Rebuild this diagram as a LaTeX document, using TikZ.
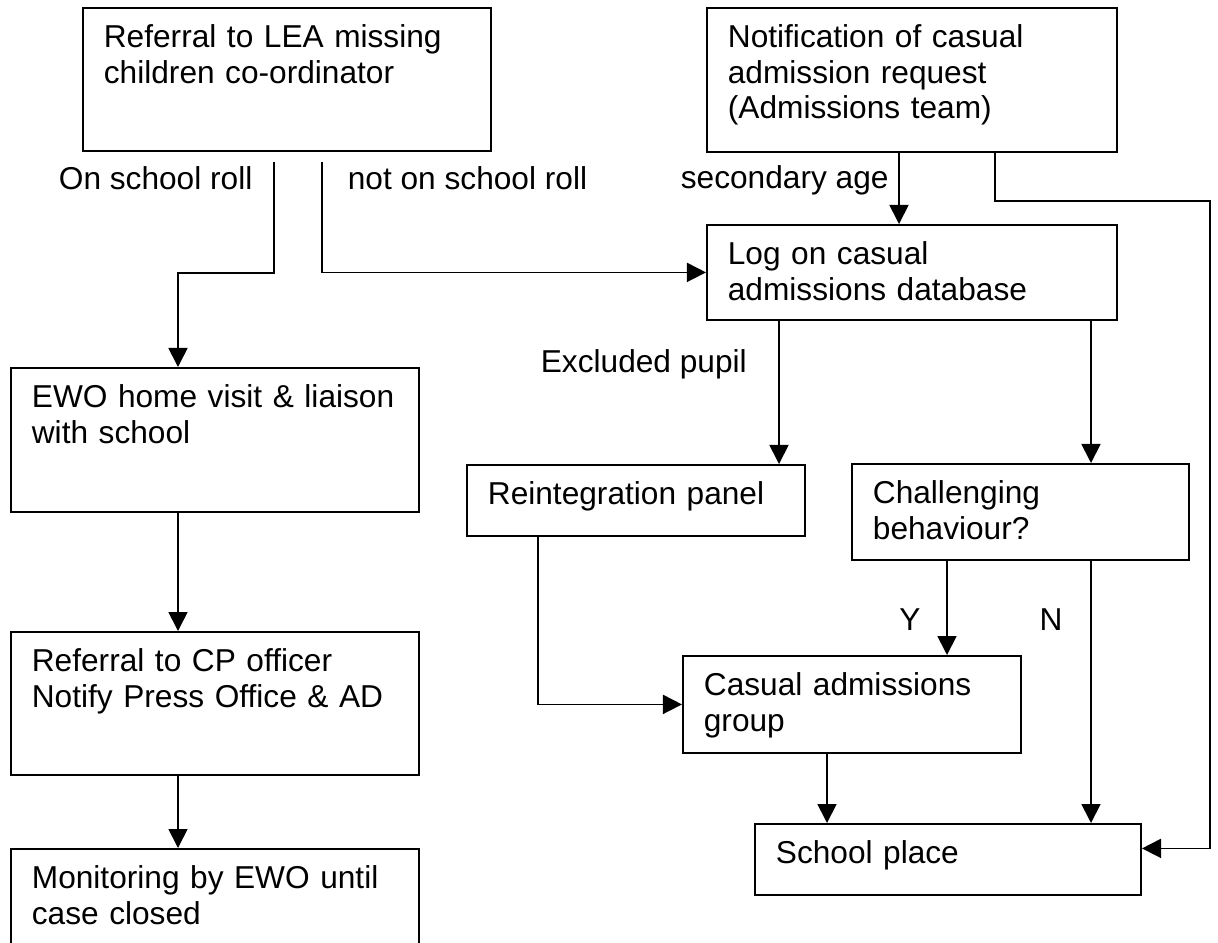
\documentclass[tikz,border=0pt]{standalone}
\usepackage{fontspec}
\setmainfont{Liberation Sans}
\usetikzlibrary{arrows.meta,calc}

\begin{document}
\begin{tikzpicture}[x=0.01cm, y=-0.01cm, line width=0.5pt]

% definitions
\tikzstyle{stage} = [rectangle, draw=black, anchor=north west, align=left, inner xsep=2.1mm, inner ysep=1mm, text height=3mm, font=\fontsize{9}{10.1}\selectfont]

\tikzstyle{tall} = [stage, text width=3.66cm, text depth=9.3mm]

\tikzstyle{middle} = [stage, text width=2.96cm, text depth=4.6mm]

\tikzstyle{flat} = [stage, text depth=2.1mm]

\tikzstyle{branch} = [anchor=base west, inner sep=0pt, font=\fontsize{9}{10.1}\selectfont]

\tikzstyle{arrow} = [-{Triangle[length=1.9mm,width=1.9mm]}]

\useasboundingbox (0,0) rectangle (1218,942);
\clip (0,0) rectangle (1218,942);

% the graph
\node (ref) [tall] at (82,7) {Referral to LEA missing\\children co-ordinator};

\node (notif) [tall, text width=3.68cm, text depth=9.4mm] at (706,7) {Notification of casual\\admission request\\(Admissions team)};

\node (log) [stage, text width=3.68cm, text depth=4.5mm] at (706,224) {Log on casual\\admissions database};

\node (ewo) [tall, text depth=9.4mm] at (10,367) {EWO home visit \& liaison\\with school};

\node (reint) [flat, text width=2.96cm] at (466,464) {Reintegration panel};

\node (chall) [middle, text width=2.95cm] at (851,463) {Challenging\\behaviour?};

\node (cp) [tall] at (10,631) {Referral to CP officer\\Notify Press Office \& AD};

\node (casual) [middle, text depth=4.7mm] at (682,655) {Casual admissions\\group};

\node (school) [flat, text width=3.44cm] at (754,823) {School place};

\node (monit) [tall] at (10,848) {Monitoring by EWO until\\case closed};

\node (onroll) [branch] at (58,189) {On school roll};
\node (offroll) [branch] at (347,189) {not on school roll};
\node (secage) [branch] at (680,188) {secondary age};
\node (excl) [branch] at (540,372) {Excluded pupil};
\node (yes) [branch, anchor=base] at (910,630) {Y};
\node (no) [branch, anchor=base] at (1051,630) {N};

\draw [arrow] ($(ref.south west)+(192,10)$) -- ++(0,111) -| ($(ewo.north west)+(168,0)$);
\draw [arrow] ($(ref.south west)+(240,10)$) |- (log.west);
\draw [arrow] ($(notif.south west)+(193,0)$) -- ($(log.north west)+(193,0)$);
\draw [arrow] ($(notif.south west)+(289,0)$) -- ++(0,48) -- ++(215,0) |- ($(school.east)+(0,-11)$);
\draw [arrow] ($(log.south west)+(73,0)$) -- ($(reint.north west)+(313,0)$);
\draw [arrow] ($(log.south west)+(385,0)$) -- ($(chall.north west)+(240,0)$);
\draw [arrow] ($(ewo.south west)+(168,0)$) -- ($(cp.north west)+(168,0)$);
\draw [arrow] ($(cp.south west)+(168,0)$) -- ($(monit.north west)+(168,0)$);
\draw [arrow] ($(reint.south west)+(72,0)$) |- (casual.west);
\draw [arrow] ($(chall.south west)+(96,0)$) -- ($(casual.north west)+(265,0)$);
\draw [arrow] ($(chall.south west)+(240,0)$) -- ($(school.north west)+(337,0)$);
\draw [arrow] ($(casual.south west)+(145,0)$) -- ($(school.north west)+(73,0)$);

\end{tikzpicture}
\end{document}
